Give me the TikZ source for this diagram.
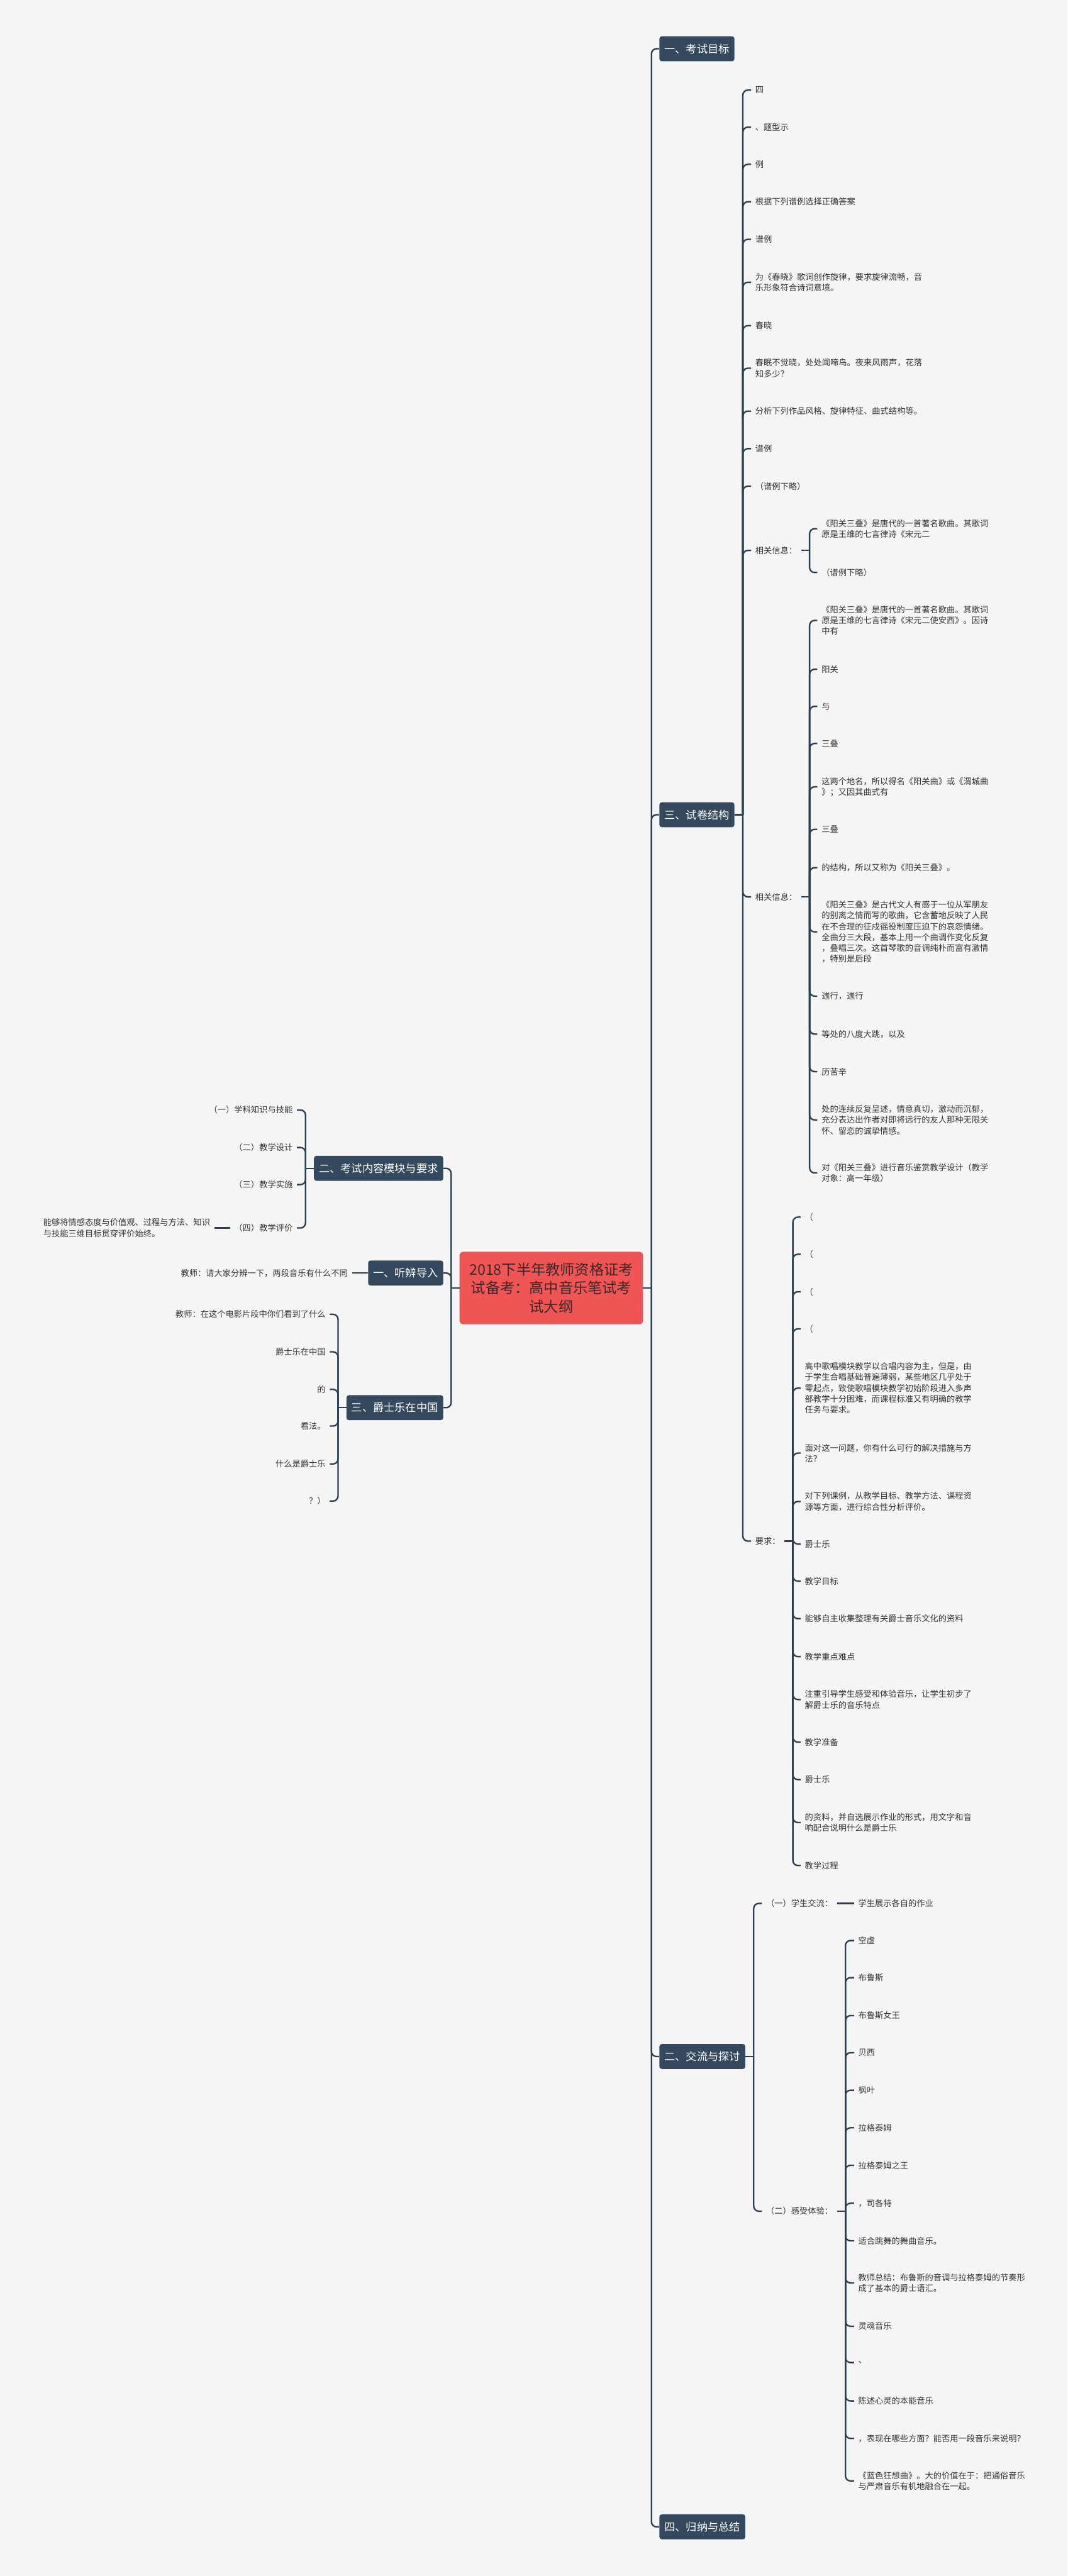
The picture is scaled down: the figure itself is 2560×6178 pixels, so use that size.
\documentclass[tikz,border=0pt]{standalone}
\usepackage{fontspec}
\setmainfont{Noto Sans CJK SC}
\definecolor{bgc}{HTML}{F5F5F5}
\definecolor{boxc}{HTML}{34495E}
\definecolor{linkc}{HTML}{2C3E50}
\definecolor{rootc}{HTML}{EF5555}
\definecolor{roottext}{HTML}{3F2628}
\definecolor{leaftext}{HTML}{333333}

\begin{document}
\begin{tikzpicture}[x=1pt, y=-1pt,
	topic/.style={fill=rootc, text=roottext, rounded corners=8pt, minimum width=440pt, minimum height=174pt, align=center, font=\fontsize{35}{45}\selectfont},
	branch/.style={fill=boxc, text=white, rounded corners=6pt, inner xsep=12pt, minimum height=60pt, font=\fontsize{26}{30}\selectfont},
	leaf/.style={text=leaftext, inner xsep=10pt, inner ysep=3pt, align=left, font=\fontsize{20}{26}\selectfont},
	link/.style={draw=linkc, line width=3.5pt, rounded corners=12pt}]
	\useasboundingbox (0,0) rectangle (2560,6178);
	\fill[bgc] (0,0) rectangle (2560,6178);

	% Root
	\node[topic] (root) at (1322,3089) {2018下半年教师资格证考\\试备考：高中音乐笔试考\\试大纲};

	% Right branches
	\node[branch, anchor=west] (r1) at (1581,117) {一、考试目标};
	\node[branch, anchor=west] (r2) at (1581,1954) {三、试卷结构};
	\node[branch, anchor=west] (r3) at (1581,4932) {二、交流与探讨};
	\node[branch, anchor=west] (r4) at (1581,6060) {四、归纳与总结};

	% Left branches
	\node[branch, anchor=east] (l1) at (1063,2802) {二、考试内容模块与要求};
	\node[branch, anchor=east] (l2) at (1063,3053) {一、听辨导入};
	\node[branch, anchor=east] (l3) at (1063,3376) {三、爵士乐在中国};

	% Paper structure
	\node[leaf, anchor=west] (a1) at (1801,216) {四};
	\node[leaf, anchor=west] (a2) at (1801,305) {、题型示};
	\node[leaf, anchor=west] (a3) at (1801,394) {例};
	\node[leaf, anchor=west] (a4) at (1801,484) {根据下列谱例选择正确答案};
	\node[leaf, anchor=west] (a5) at (1801,574) {谱例};
	\node[leaf, anchor=west] (a6) at (1801,677) {为《春晓》歌词创作旋律，要求旋律流畅，音\\乐形象符合诗词意境。};
	\node[leaf, anchor=west] (a7) at (1801,781) {春晓};
	\node[leaf, anchor=west] (a8) at (1801,883) {春眠不觉晓，处处闻啼鸟。夜来风雨声，花落\\知多少？};
	\node[leaf, anchor=west] (a9) at (1801,986) {分析下列作品风格、旋律特征、曲式结构等。};
	\node[leaf, anchor=west] (a10) at (1801,1076) {谱例};
	\node[leaf, anchor=west] (a11) at (1801,1166) {（谱例下略）};
	\node[leaf, anchor=west] (a12) at (1801,1320) {相关信息：};
	\node[leaf, anchor=west] (a13) at (1801,2151) {相关信息：};
	\node[leaf, anchor=west] (a14) at (1801,3696) {要求：};

	\node[leaf, anchor=west] (b1) at (1960,1268) {《阳关三叠》是唐代的一首著名歌曲。其歌词\\原是王维的七言律诗《宋元二};
	\node[leaf, anchor=west] (b2) at (1960,1373) {（谱例下略）};

	\node[leaf, anchor=west] (c1) at (1960,1488) {《阳关三叠》是唐代的一首著名歌曲。其歌词\\原是王维的七言律诗《宋元二使安西》。因诗\\中有};
	\node[leaf, anchor=west] (c2) at (1960,1605) {阳关};
	\node[leaf, anchor=west] (c3) at (1960,1694) {与};
	\node[leaf, anchor=west] (c4) at (1960,1783) {三叠};
	\node[leaf, anchor=west] (c5) at (1960,1887) {这两个地名，所以得名《阳关曲》或《渭城曲\\》；又因其曲式有};
	\node[leaf, anchor=west] (c6) at (1960,1989) {三叠};
	\node[leaf, anchor=west] (c7) at (1960,2081) {的结构，所以又称为《阳关三叠》。};
	\node[leaf, anchor=west] (c8) at (1960,2235) {《阳关三叠》是古代文人有感于一位从军朋友\\的别离之情而写的歌曲，它含蓄地反映了人民\\在不合理的征戍徭役制度压迫下的哀怨情绪。\\全曲分三大段，基本上用一个曲调作变化反复\\，叠唱三次。这首琴歌的音调纯朴而富有激情\\，特别是后段};
	\node[leaf, anchor=west] (c9) at (1960,2389) {遄行，遄行};
	\node[leaf, anchor=west] (c10) at (1960,2480) {等处的八度大跳，以及};
	\node[leaf, anchor=west] (c11) at (1960,2570) {历苦辛};
	\node[leaf, anchor=west] (c12) at (1960,2686) {处的连续反复呈述，情意真切，激动而沉郁，\\充分表达出作者对即将远行的友人那种无限关\\怀、留恋的诚挚情感。};
	\node[leaf, anchor=west] (c13) at (1960,2813) {对《阳关三叠》进行音乐鉴赏教学设计（教学\\对象：高一年级）};

	\node[leaf, anchor=west] (d1) at (1920,2919) {（};
	\node[leaf, anchor=west] (d2) at (1920,3008) {（};
	\node[leaf, anchor=west] (d3) at (1920,3098) {（};
	\node[leaf, anchor=west] (d4) at (1920,3187) {（};
	\node[leaf, anchor=west] (d5) at (1920,3329) {高中歌唱模块教学以合唱内容为主，但是，由\\于学生合唱基础普遍薄弱，某些地区几乎处于\\零起点，致使歌唱模块教学初始阶段进入多声\\部教学十分困难，而课程标准又有明确的教学\\任务与要求。};
	\node[leaf, anchor=west] (d6) at (1920,3485) {面对这一问题，你有什么可行的解决措施与方\\法？};
	\node[leaf, anchor=west] (d7) at (1920,3601) {对下列课例，从教学目标、教学方法、课程资\\源等方面，进行综合性分析评价。};
	\node[leaf, anchor=west] (d8) at (1920,3703) {爵士乐};
	\node[leaf, anchor=west] (d9) at (1920,3792) {教学目标};
	\node[leaf, anchor=west] (d10) at (1920,3882) {能够自主收集整理有关爵士音乐文化的资料};
	\node[leaf, anchor=west] (d11) at (1920,3973) {教学重点难点};
	\node[leaf, anchor=west] (d12) at (1920,4076) {注重引导学生感受和体验音乐，让学生初步了\\解爵士乐的音乐特点};
	\node[leaf, anchor=west] (d13) at (1920,4178) {教学准备};
	\node[leaf, anchor=west] (d14) at (1920,4268) {爵士乐};
	\node[leaf, anchor=west] (d15) at (1920,4371) {的资料，并自选展示作业的形式，用文字和音\\响配合说明什么是爵士乐};
	\node[leaf, anchor=west] (d16) at (1920,4474) {教学过程};

	% Exchange and discussion
	\node[leaf, anchor=west] (e1) at (1827,4565) {（一）学生交流：};
	\node[leaf, anchor=west] (e2) at (1827,5303) {（二）感受体验：};
	\node[leaf, anchor=west] (e1a) at (2048,4565) {学生展示各自的作业};

	\node[leaf, anchor=west] (f1) at (2048,4654) {空虚};
	\node[leaf, anchor=west] (f2) at (2048,4743) {布鲁斯};
	\node[leaf, anchor=west] (f3) at (2048,4834) {布鲁斯女王};
	\node[leaf, anchor=west] (f4) at (2048,4923) {贝西};
	\node[leaf, anchor=west] (f5) at (2048,5013) {枫叶};
	\node[leaf, anchor=west] (f6) at (2048,5103) {拉格泰姆};
	\node[leaf, anchor=west] (f7) at (2048,5193) {拉格泰姆之王};
	\node[leaf, anchor=west] (f8) at (2048,5284) {，司各特};
	\node[leaf, anchor=west] (f9) at (2048,5374) {适合跳舞的舞曲音乐。};
	\node[leaf, anchor=west] (f10) at (2048,5475) {教师总结：布鲁斯的音调与拉格泰姆的节奏形\\成了基本的爵士语汇。};
	\node[leaf, anchor=west] (f11) at (2048,5579) {灵魂音乐};
	\node[leaf, anchor=west] (f12) at (2048,5666) {、};
	\node[leaf, anchor=west] (f13) at (2048,5758) {陈述心灵的本能音乐};
	\node[leaf, anchor=west] (f14) at (2048,5848) {，表现在哪些方面？能否用一段音乐来说明？};
	\node[leaf, anchor=west] (f15) at (2048,5950) {《蓝色狂想曲》。大的价值在于：把通俗音乐\\与严肃音乐有机地融合在一起。};

	% Left side leaves
	\node[leaf, anchor=east] (g1) at (712,2662) {（一）学科知识与技能};
	\node[leaf, anchor=east] (g2) at (712,2752) {（二）教学设计};
	\node[leaf, anchor=east] (g3) at (712,2841) {（三）教学实施};
	\node[leaf, anchor=east] (g4) at (712,2945) {（四）教学评价};
	\node[leaf, anchor=east] (g4a) at (514,2945) {能够将情感态度与价值观、过程与方法、知识\\与技能三维目标贯穿评价始终。};

	\node[leaf, anchor=east] (h1) at (844,3053) {教师：请大家分辨一下，两段音乐有什么不同};

	\node[leaf, anchor=east] (k1) at (791,3152) {教师：在这个电影片段中你们看到了什么};
	\node[leaf, anchor=east] (k2) at (791,3242) {爵士乐在中国};
	\node[leaf, anchor=east] (k3) at (791,3332) {的};
	\node[leaf, anchor=east] (k4) at (791,3420) {看法。};
	\node[leaf, anchor=east] (k5) at (791,3511) {什么是爵士乐};
	\node[leaf, anchor=east] (k6) at (791,3600) {？）};

	% Connectors
	\draw[link] (root.east) -- ++(20,0) coordinate (rs);
	\foreach \n in {r1,r2,r3,r4} \draw[link] (rs) |- (\n.west);
	\draw[link] (root.west) -- ++(-20,0) coordinate (ls);
	\foreach \n in {l1,l2,l3} \draw[link] (ls) |- (\n.east);

	\draw[link] (r2.east) -- ++(20,0) coordinate (r2s);
	\foreach \n in {a1,a2,a3,a4,a5,a6,a7,a8,a9,a10,a11,a12,a13,a14} \draw[link] (r2s) |- (\n.west);
	\draw[link] (a12.east) -- ++(20,0) coordinate (a12s);
	\foreach \n in {b1,b2} \draw[link] (a12s) |- (\n.west);
	\draw[link] (a13.east) -- ++(20,0) coordinate (a13s);
	\foreach \n in {c1,c2,c3,c4,c5,c6,c7,c8,c9,c10,c11,c12,c13} \draw[link] (a13s) |- (\n.west);
	\draw[link] (a14.east) -- ++(20,0) coordinate (a14s);
	\foreach \n in {d1,d2,d3,d4,d5,d6,d7,d8,d9,d10,d11,d12,d13,d14,d15,d16} \draw[link] (a14s) |- (\n.west);

	\draw[link] (r3.east) -- ++(20,0) coordinate (r3s);
	\foreach \n in {e1,e2} \draw[link] (r3s) |- (\n.west);
	\draw[link] (e1.east) -- (e1a.west);
	\draw[link] (e2.east) -- ++(20,0) coordinate (e2s);
	\foreach \n in {f1,f2,f3,f4,f5,f6,f7,f8,f9,f10,f11,f12,f13,f14,f15} \draw[link] (e2s) |- (\n.west);

	\draw[link] (l1.west) -- ++(-20,0) coordinate (l1s);
	\foreach \n in {g1,g2,g3,g4} \draw[link] (l1s) |- (\n.east);
	\draw[link] (g4.west) -- (g4a.east);
	\draw[link] (l2.west) -- (h1.east);
	\draw[link] (l3.west) -- ++(-20,0) coordinate (l3s);
	\foreach \n in {k1,k2,k3,k4,k5,k6} \draw[link] (l3s) |- (\n.east);
\end{tikzpicture}
\end{document}
